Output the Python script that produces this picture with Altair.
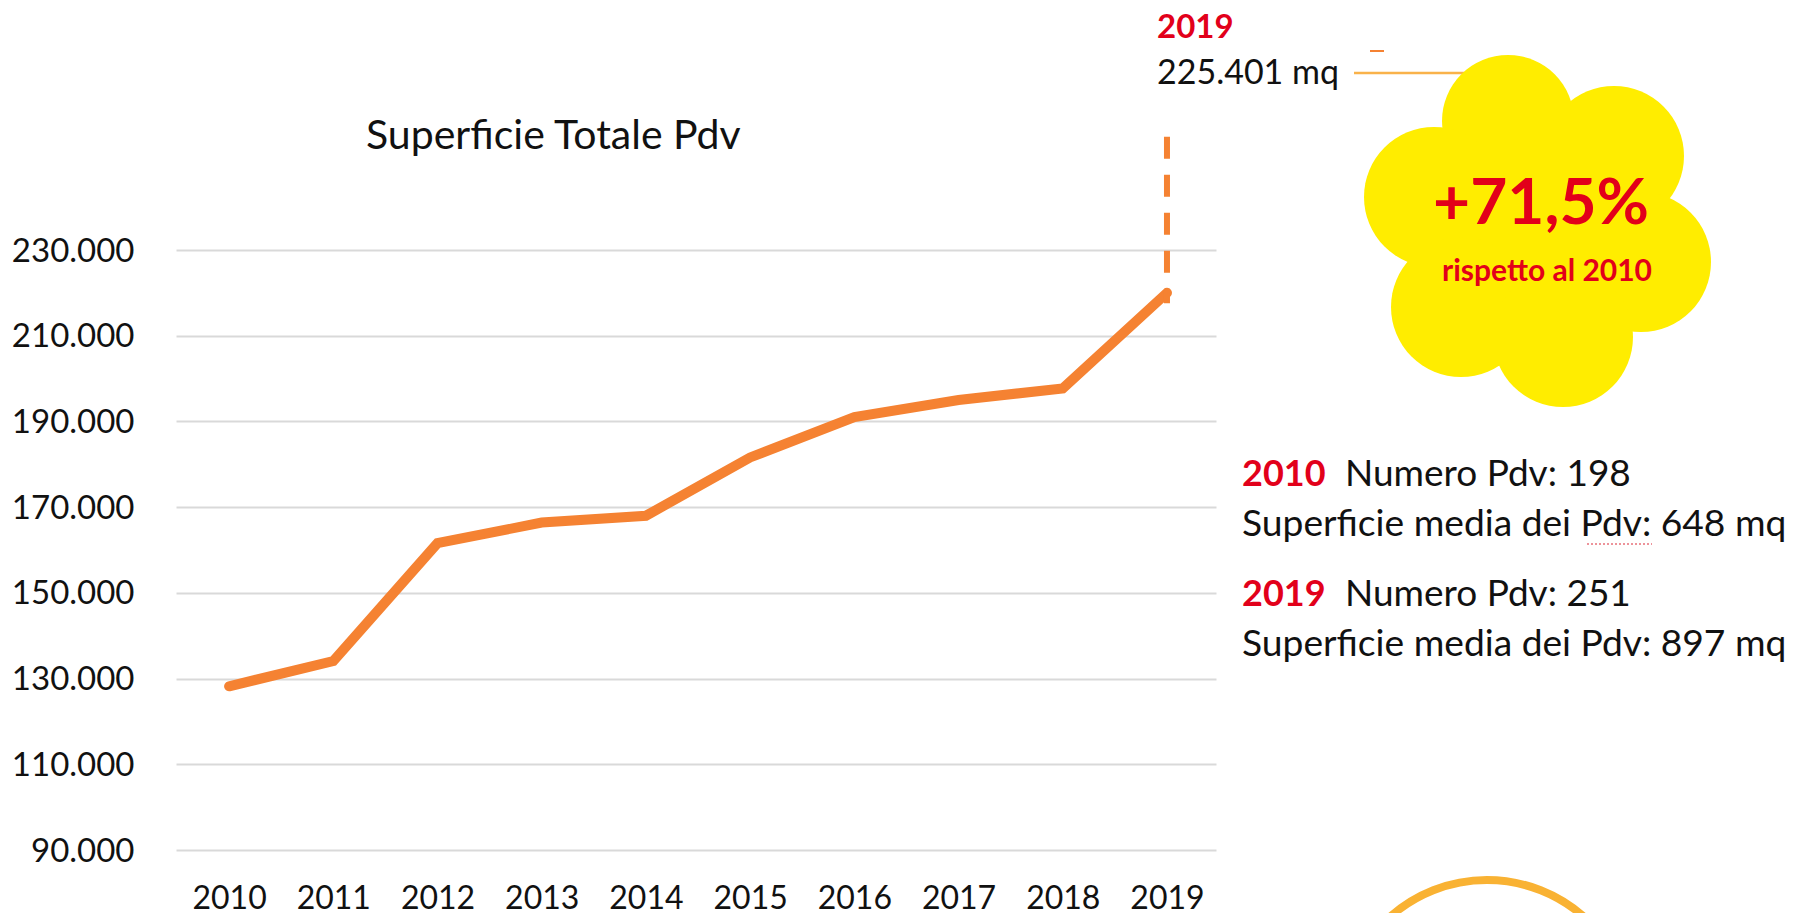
import altair as alt
import pandas as pd

years = [2010, 2011, 2012, 2013, 2014, 2015, 2016, 2017, 2018, 2019]
superficie = [128200, 134100, 161600, 166400, 168000, 181600, 191000, 195000, 197700, 220000]
y_ticks = [90000, 110000, 130000, 150000, 170000, 190000, 210000, 230000]
dash_year = [2019]
dash_top = [256400]
dash_bottom = [217600]

FONT = "Lato"
ORANGE = "#F58232"
RED = "#E2001A"
YELLOW = "#FFED00"
LEFT, TOP = 176, 8

one = alt.Data(values=[{"a": 1}])


def text(s, px, py, size, color="#111111", weight="normal", align="left"):
    return alt.Chart(one).mark_text(
        font=FONT, fontSize=size, color=color, fontWeight=weight, align=align, baseline="middle", text=s
    ).encode(x=alt.value(px - LEFT), y=alt.value(py + 2 - TOP))


def hline(x1, x2, py, color, width, dash=None):
    kw = {"strokeDash": dash} if dash else {}
    return alt.Chart(one).mark_rule(color=color, strokeWidth=width, **kw).encode(
        x=alt.value(x1 - LEFT), x2=alt.value(x2 - LEFT), y=alt.value(py - TOP)
    )


def blob(px, py, r):
    return alt.Chart(one).mark_circle(color=YELLOW, opacity=1).encode(
        x=alt.value(px - LEFT), y=alt.value(py - TOP), size=alt.value(4 * r * r)
    )


df = pd.DataFrame({"anno": years, "superficie": superficie})
df_dash = pd.DataFrame({"anno": dash_year, "top": dash_top, "bottom": dash_bottom})

x_scale = alt.Scale(type="point", domain=years, padding=0.49, align=0.52)
x_enc = alt.X(
    "anno:O",
    scale=x_scale,
    axis=alt.Axis(
        title=None, labelAngle=0, labelFont=FONT, labelFontSize=32, labelColor="#111111",
        domain=False, ticks=False, labelPadding=5, grid=False,
    ),
)
y_scale = alt.Scale(domain=[83467, 286467], nice=False, zero=False)
y_enc = alt.Y(
    "superficie:Q",
    scale=y_scale,
    axis=alt.Axis(
        title=None, values=y_ticks, labelFont=FONT, labelFontSize=33, labelColor="#111111",
        labelExpr="replace(format(datum.value, ','), ',', '.')", labelOffset=1,
        domain=False, ticks=False, labelPadding=42, grid=True, gridColor="#D9D9D9", gridWidth=2,
    ),
)

line = alt.Chart(df).mark_line(color=ORANGE, strokeWidth=10, strokeCap="round", strokeJoin="miter").encode(
    x=x_enc, y=y_enc
)
dash = alt.Chart(df_dash).mark_rule(color=ORANGE, strokeWidth=6, strokeDash=[22, 16]).encode(
    x=alt.X("anno:O", scale=x_scale),
    y=alt.Y("top:Q", scale=y_scale),
    y2="bottom:Q",
)

layers = [
    line,
    dash,
    hline(1354, 1470, 73, "#F9B24A", 2.5),
    hline(1370, 1384, 51, ORANGE, 2),
    blob(1538, 230, 112),
    blob(1508, 121, 66),
    blob(1614, 156, 70),
    blob(1434, 197, 70),
    blob(1641, 262, 70),
    blob(1461, 307, 70),
    blob(1563, 337, 70),
    text("2019", 1157, 26, 33, RED, "bold"),
    text("225.401 mq", 1157, 72, 34),
    text("+71,5%", 1541, 203, 64, RED, "bold", "center"),
    text("rispetto al 2010", 1547, 270, 30, RED, "bold", "center"),
    text("2010", 1242, 473, 36, RED, "bold"),
    text("Numero Pdv: 198", 1345, 473, 37),
    text("Superficie media dei Pdv: 648 mq", 1242, 523, 37.2),
    hline(1587, 1652, 544, "#E8707A", 1.5, [2, 2]),
    text("2019", 1242, 593, 36, RED, "bold"),
    text("Numero Pdv: 251", 1345, 593, 37),
    text("Superficie media dei Pdv: 897 mq", 1242, 643, 37.2),
    alt.Chart(one).mark_point(shape="circle", filled=False, color="#F9B233", strokeWidth=8, opacity=1).encode(
        x=alt.value(1487 - LEFT), y=alt.value(1026 - TOP), size=alt.value(4 * 146 * 146)
    ),
]

chart = alt.layer(*layers).properties(
    width=1040,
    height=870,
    autosize=alt.AutoSizeParams(type="none"),
    padding={"left": 168, "top": 0, "right": 572, "bottom": 35},
    title=alt.TitleParams(
        "Superficie Totale Pdv", anchor="start", frame="group", dx=190, dy=154,
        font=FONT, fontSize=41, fontWeight="normal", color="#111111",
    ),
).configure_view(stroke=None)

chart.save("out.html", embed_options={"renderer": "svg", "actions": False})
